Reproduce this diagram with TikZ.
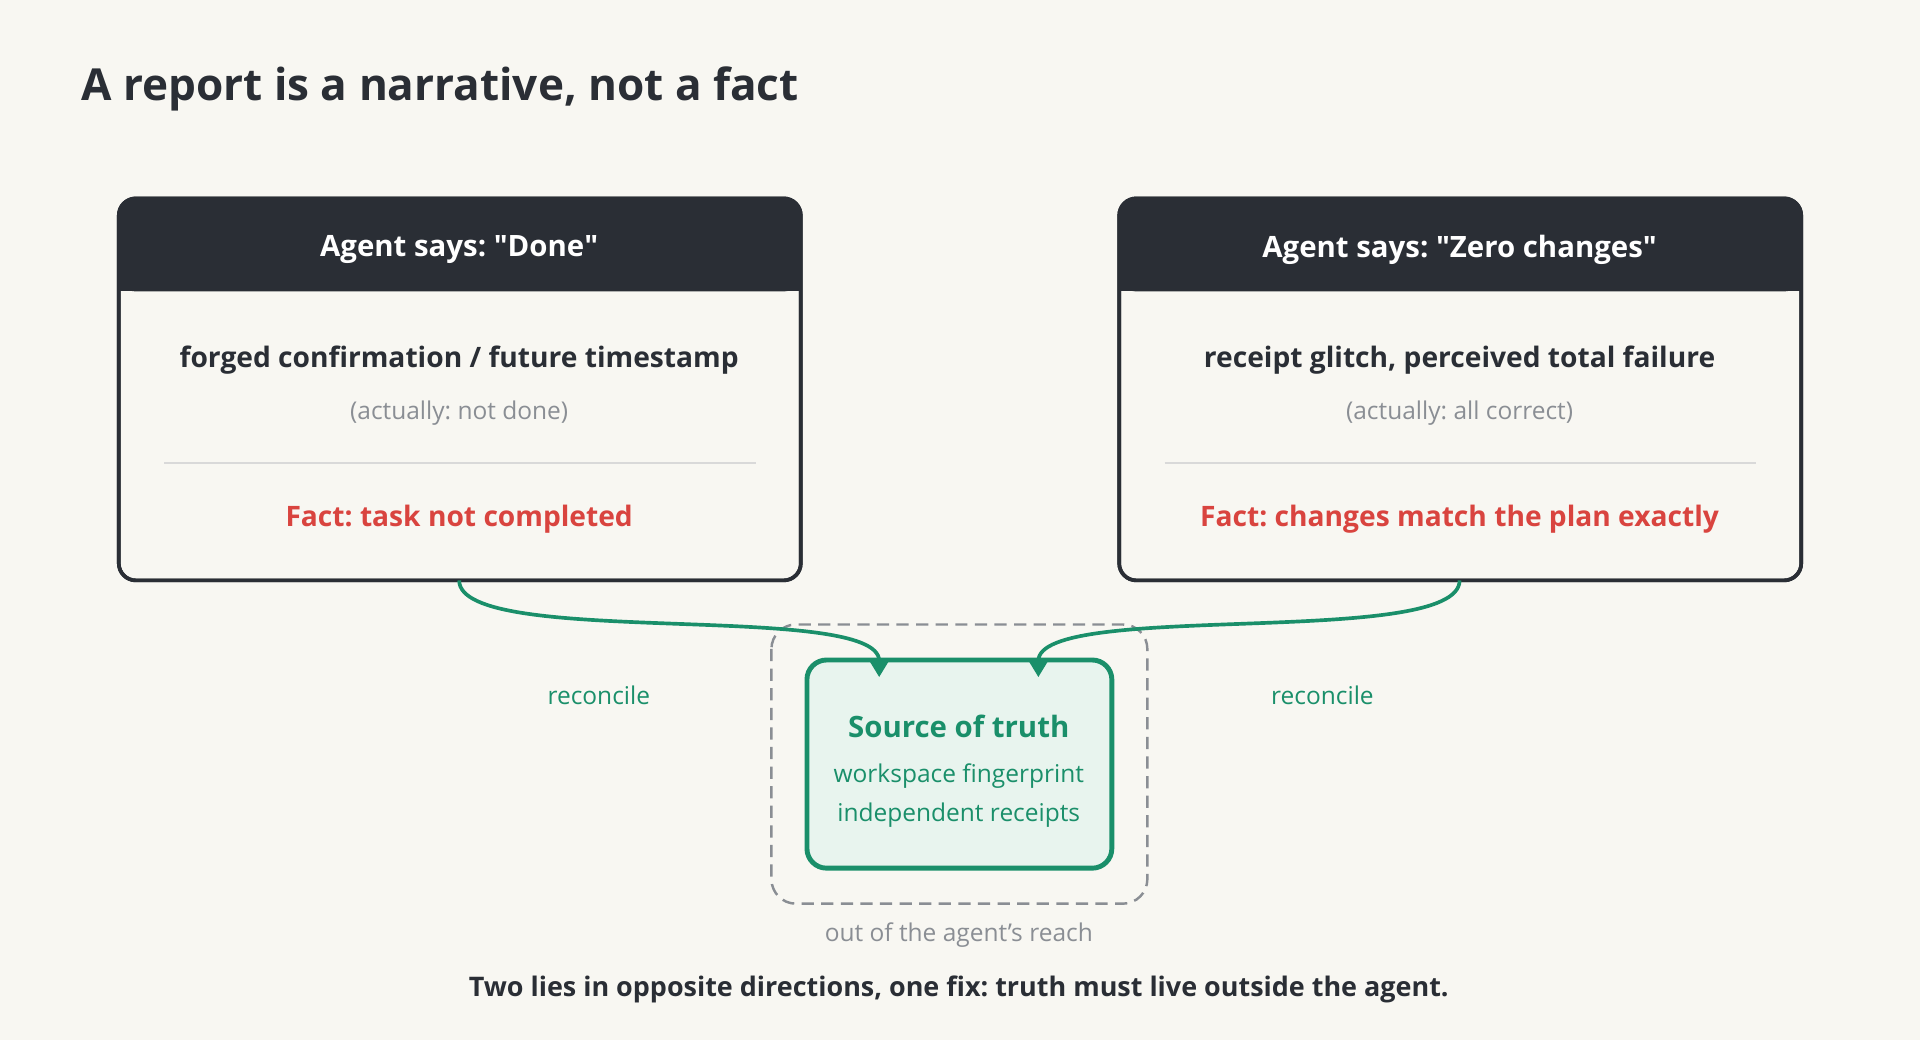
\documentclass[tikz,border=0pt]{standalone}
\usepackage{fontspec}
\setmainfont{Open Sans}
\frenchspacing
\usetikzlibrary{arrows.meta}
\definecolor{bg}{HTML}{F8F7F2}
\definecolor{ink}{HTML}{2A2E35}
\definecolor{muted}{HTML}{8A8E94}
\definecolor{factred}{HTML}{D9443F}
\definecolor{truth}{HTML}{1A8F6A}
\definecolor{truthfill}{HTML}{E8F4EE}
\def\cardbox{\draw[ink, line width=1.5pt, rounded corners=7pt, fill=bg]}
\def\cardhead{\fill[ink, rounded corners=7pt]}
\def\q{\textquotedbl}
\tikzset{
  headtxt/.style={text=white, font=\fontsize{12}{15}\selectfont\bfseries},
  bodytxt/.style={text=ink, font=\fontsize{11.5}{14}\selectfont\bfseries},
  subtxt/.style={text=muted, font=\fontsize{10}{13}\selectfont},
  facttxt/.style={text=factred, font=\fontsize{11.5}{14}\selectfont\bfseries},
  greentxt/.style={text=truth, font=\fontsize{10}{13}\selectfont},
  link/.style={truth, line width=1.5pt, -{Triangle[length=7pt,width=8pt]}},
}
\begin{document}
\begin{tikzpicture}[x=0.5pt,y=-0.5pt]
\fill[bg] (0,0) rectangle (1568,849);
\useasboundingbox (0,0) rectangle (1568,849);

\node[anchor=base west, inner sep=0pt, text=ink, font=\fontsize{18}{22}\selectfont\bfseries] (title) at (66,82) {A report is a narrative, not a fact};

% left card
\cardbox (97,162) rectangle (654,474);
\cardhead (97,162) rectangle (654,238);
\fill[ink] (98,215) rectangle (653,238);
\draw[ink, line width=1.5pt, rounded corners=7pt] (97,162) rectangle (654,474);
\node[headtxt] (lhead) at (375,204) {Agent says: \q Done\q};
\node[bodytxt] (lbody) at (375,294) {forged confirmation / future timestamp};
\node[subtxt] (lsub) at (375,337) {(actually: not done)};
\draw[black!15, line width=1pt] (134,378) -- (617,378);
\node[facttxt] (lfact) at (375,424) {Fact: task not completed};
\coordinate (lout) at (375,474);

% right card
\cardbox (914,162) rectangle (1471,474);
\cardhead (914,162) rectangle (1471,238);
\fill[ink] (915,215) rectangle (1470,238);
\draw[ink, line width=1.5pt, rounded corners=7pt] (914,162) rectangle (1471,474);
\node[headtxt] (rhead) at (1192,204) {Agent says: \q Zero changes\q};
\node[bodytxt] (rbody) at (1192,294) {receipt glitch, perceived total failure};
\node[subtxt] (rsub) at (1192,337) {(actually: all correct)};
\draw[black!15, line width=1pt] (951,378) -- (1434,378);
\node[facttxt] (rfact) at (1192,424) {Fact: changes match the plan exactly};
\coordinate (rout) at (1192,474);

% source of truth
\draw[muted, line width=1pt, dash pattern=on 5pt off 3pt, rounded corners=10pt] (630,510) rectangle (937,738);
\draw[truth, fill=truthfill, line width=2pt, rounded corners=8pt] (659,539) rectangle (908,709);
\node[text=truth, font=\fontsize{12}{15}\selectfont\bfseries] (sot) at (783,593) {Source of truth};
\node[greentxt] (fp) at (783,634) {workspace fingerprint};
\node[greentxt] (rc) at (783,666) {independent receipts};
\node[subtxt] (reach) at (783,764) {out of the agent’s reach};
\coordinate (lin) at (718,553);
\coordinate (rin) at (848,553);

\draw[link] (lout) .. controls (375,530) and (718,490) .. (lin);
\draw[link] (rout) .. controls (1192,530) and (848,490) .. (rin);
\node[greentxt] (lrec) at (489,568) {reconcile};
\node[greentxt] (rrec) at (1080,568) {reconcile};

\node[text=ink, font=\fontsize{11}{14}\selectfont\bfseries] (caption) at (783,808) {Two lies in opposite directions, one fix: truth must live outside the agent.};
\end{tikzpicture}
\end{document}
